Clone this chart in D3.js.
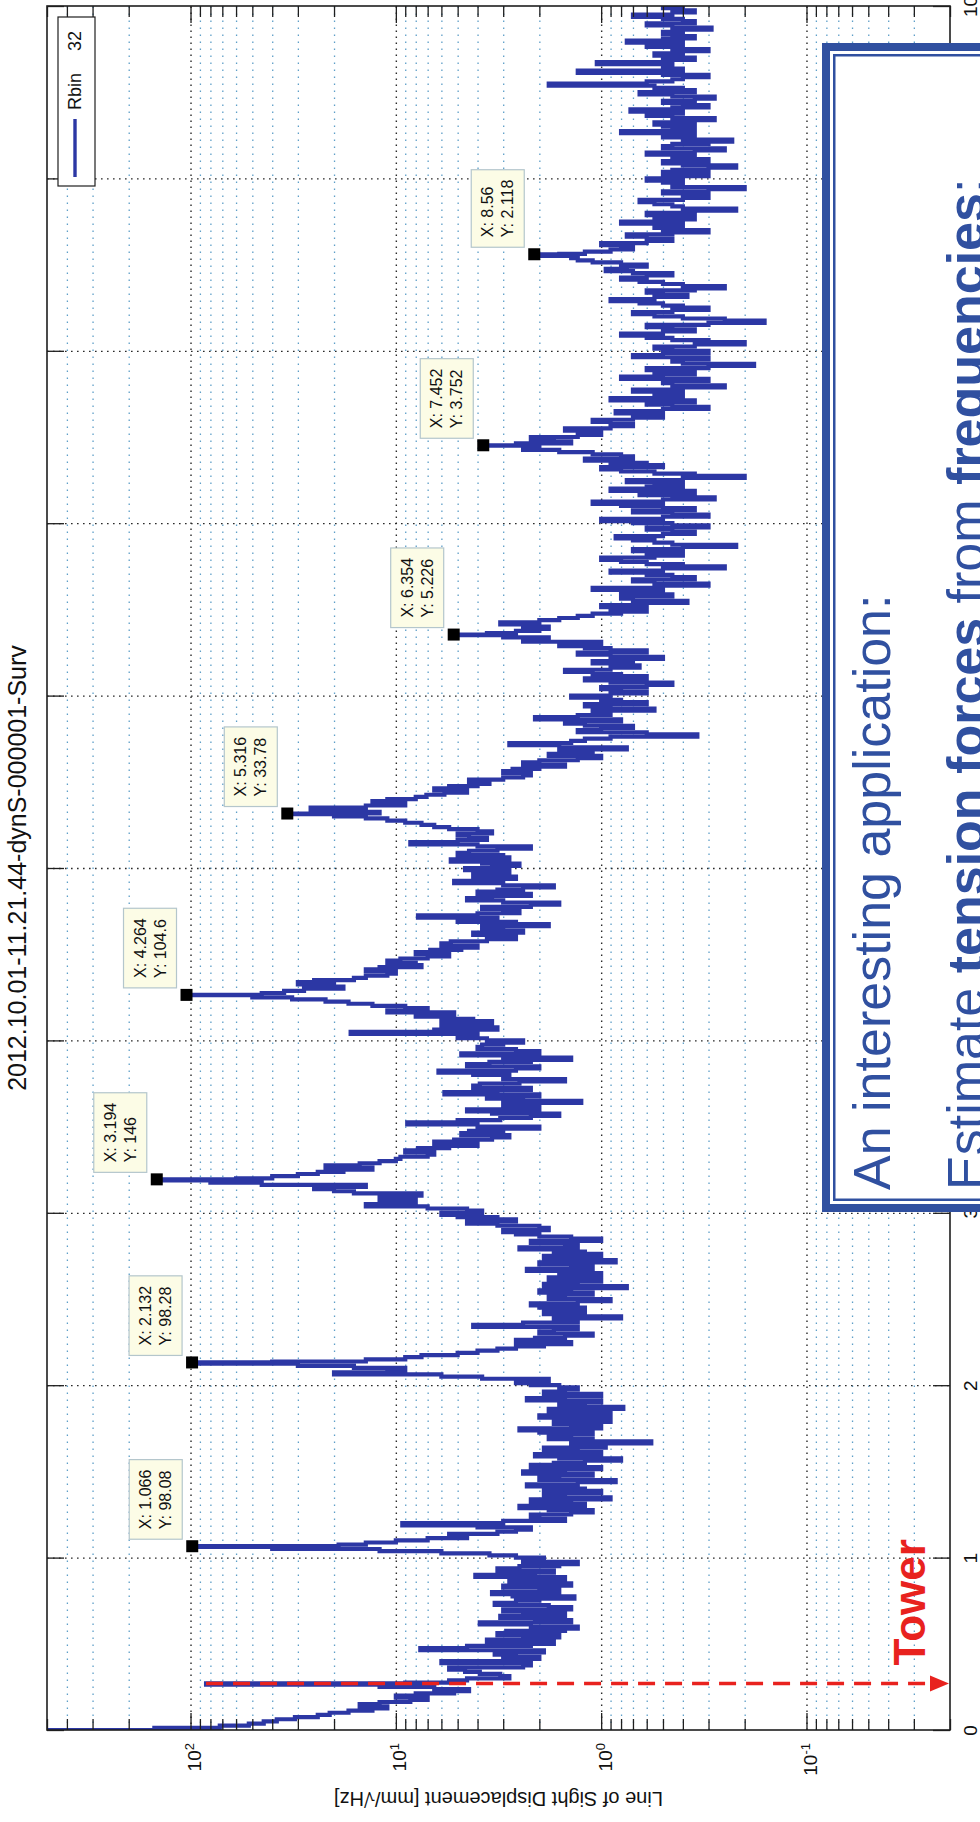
<!DOCTYPE html>
<html>
<head>
<meta charset="utf-8">
<script src="https://cdn.jsdelivr.net/npm/d3@7"></script>
<style>
  html, body { margin: 0; padding: 0; background: #ffffff; }
  svg { display: block; font-family: "Liberation Sans", Arial, Helvetica, sans-serif; }
</style>
</head>
<body>
<svg id="chart" width="980" height="1822"></svg>
<script>
// ---- labels ----
const chartTitle = "2012.10.01-11.21.44-dynS-000001-Surv";
const valueLabel = "Line of Sight Displacement [mm/\u221AHz]";
const legendName = "Rbin";
const legendValue = "32";
const noteLine1 = "An interesting application:";
const noteLine2 = [
  { text: "Estimate ", bold: false },
  { text: "tension forces", bold: true },
  { text: " from ", bold: false },
  { text: "frequencies", bold: true },
  { text: ":", bold: false }
];
const towerLabel = "Tower";

// ---- axis ticks ----
const freqTicks = [0, 1, 2, 3, 4, 5, 6, 7, 8, 9, 10];
const decadeTicks = [0.1, 1, 10, 100];
const valueDomain = [0.02, 500];
const freqDomain = [0, 10];

// ---- spectrum (mm/sqrt(Hz)), sampled every freqStep Hz, one array per 1 Hz band ----
const freqStep = 0.0125;
const psdBand0 = [3000, 150, 72, 52, 44, 38, 31, 24, 21, 17, 13, 11, 15, 12, 8.5, 7, 10, 8, 5.2, 4.4,
                  6.5, 12, 9, 5.5, 4.5, 2.8, 3.1, 3.9, 4.6, 5.5, 2.4, 2.2, 6.0, 3.0, 2.0, 2.6, 3.3, 1.9, 7.6, 4.5,
                  2.2, 1.7, 3.6, 2.4, 1.6, 3.2, 2.9, 1.5, 1.3, 2.2, 3.9, 1.4, 2.1, 3.1, 1.5, 2.4, 3.0, 1.4, 1.8, 3.3,
                  2.6, 2.0, 1.35, 2.7, 3.4, 1.6, 2.0, 3.0, 1.4, 2.2, 2.8, 1.5, 4.1, 2.1, 1.7, 3.2, 2.5, 1.6, 1.3, 2.4];
const psdBand1 = [1.9, 2.6, 3.5, 6, 12, 40, 19, 14, 10, 7, 4.5, 5.5, 3.2, 2.6, 2.2, 4.0, 9.3, 3.0, 1.5, 2.0,
                  2.2, 1.4, 1.1, 1.8, 2.5, 1.2, 1.4, 2.2, 0.9, 1.5, 1.9, 1.0, 1.2, 1.9, 2.3, 1.3, 0.85, 2.0, 1.6, 1.1,
                  2.4, 1.5, 1.0, 2.2, 1.7, 1.2, 0.8, 1.6, 2.1, 1.0, 1.3, 1.9, 0.95, 1.4, 0.57, 1.1, 1.8, 1.4, 1.1, 2.0,
                  2.5, 1.0, 1.4, 1.7, 0.9, 1.3, 2.0, 0.9, 1.2, 1.8, 0.78, 1.2, 1.6, 1.0, 2.3, 1.5, 1.0, 1.9, 1.5, 1.3];
const psdBand2 = [1.6, 2.2, 2.6, 1.8, 3.8, 6.0, 20, 11, 9, 16, 30, 40, 14, 9, 7.5, 5.0, 4.0, 3.2, 2.6, 1.9,
                  1.4, 2.6, 2.1, 1.5, 1.1, 2.0, 1.7, 1.3, 4.2, 2.4, 1.3, 1.7, 0.8, 1.2, 1.9, 1.5, 1.2, 2.0, 2.2, 1.3,
                  0.9, 1.8, 1.5, 1.1, 2.0, 1.4, 0.75, 1.9, 1.3, 1.0, 1.8, 1.4, 1.0, 1.6, 2.3, 1.1, 1.4, 2.0, 0.85, 1.3,
                  1.9, 1.0, 1.2, 1.7, 2.5, 1.3, 1.5, 2.2, 1.0, 1.4, 2.0, 2.6, 3.0, 1.8, 2.0, 3.2, 4.5, 2.6, 3.2, 5.0];
const psdBand3 = [6.0, 3.8, 4.5, 7, 14, 9, 8, 12, 10, 7.5, 16, 20, 25, 14, 45, 80, 60, 40, 30, 24,
                  18, 13, 22, 15, 12, 10, 9.5, 7, 6.5, 9, 7.8, 5.5, 4.0, 6.5, 5.2, 3.4, 2.8, 4.8, 4.4, 3.0,
                  2.0, 4.0, 8.8, 5.0, 3.1, 2.2, 1.6, 3.4, 4.5, 2.0, 2.4, 3.0, 1.25, 2.4, 3.6, 2.0, 5.8, 3.2, 2.2, 4.2,
                  3.9, 2.5, 1.5, 3.0, 2.8, 4.2, 6.2, 2.6, 2.0, 4.5, 3.5, 2.2, 1.4, 3.0, 4.8, 2.0, 2.6, 4.0, 3.8, 3.0];
const psdBand4 = [2.4, 3.6, 5.0, 4.0, 16.6, 6.5, 3.2, 4.5, 6.0, 3.4, 4.2, 6.0, 8.0, 5.2, 11, 7.0, 9, 13, 17, 22,
                  32, 50, 45, 35, 28, 18, 20, 30, 25, 16, 14, 11, 10, 14, 12, 7.5, 8.0, 11, 9.5, 7.0,
                  5.5, 8.0, 6.8, 4.8, 4.0, 6.0, 5.4, 3.6, 2.6, 3.4, 4.2, 2.4, 3.0, 3.8, 1.8, 2.6, 5.0, 3.2, 7.8, 4.0,
                  2.5, 3.0, 3.8, 2.2, 1.6, 3.0, 4.5, 3.4, 2.2, 4.0, 3.2, 2.4, 1.7, 3.0, 5.2, 3.6, 2.6, 4.2, 3.6, 2.8];
const psdBand5 = [4.6, 3.4, 2.5, 3.8, 5.4, 2.8, 3.0, 5.0, 4.4, 3.2, 2.2, 4.0, 8.5, 5.0, 3.6, 4.4, 5.0, 3.4, 4.0, 5.5,
                  6.5, 7.5, 9.0, 11, 14, 20, 12, 18, 26, 14, 9.0, 13, 11, 8.0, 7.1, 5.8, 4.5, 6.5, 5.5, 4.0,
                  3.5, 4.4, 3.0, 2.4, 2.2, 3.0, 2.7, 2.0, 1.5, 2.4, 2.0, 1.3, 1.0, 1.8, 1.6, 1.1, 0.75, 1.6, 2.8, 1.4,
                  1.2, 0.9, 0.34, 0.6, 1.3, 1.0, 0.7, 1.2, 1.5, 0.8, 2.1, 1.3, 0.9, 1.1, 0.55, 0.9, 1.2, 0.6, 0.8, 1.0];
const psdBand6 = [1.4, 0.9, 0.6, 0.8, 1.0, 0.6, 0.45, 0.9, 1.2, 0.6, 0.8, 1.1, 1.5, 0.9, 0.65, 0.8, 1.1, 0.7, 0.5, 0.9,
                  1.3, 0.6, 0.9, 1.2, 1.6, 1.0, 2.4, 1.8, 3.0, 3.6, 2.6, 2.0, 1.8, 2.4, 3.1, 2.0, 1.6, 1.3, 1.1, 0.8,
                  0.6, 0.9, 1.0, 0.6, 0.38, 0.7, 0.8, 0.45, 0.5, 0.8, 1.1, 0.5, 0.3, 0.55, 0.7, 0.35, 0.45, 0.6, 0.9, 0.5,
                  0.25, 0.4, 0.6, 0.8, 1.0, 0.55, 0.4, 0.6, 0.7, 0.4, 0.22, 0.45, 0.55, 0.7, 0.85, 0.5, 0.35, 0.45, 0.6, 0.3];
const psdBand7 = [0.45, 0.7, 1.0, 0.5, 0.3, 0.45, 0.7, 0.35, 0.5, 0.8, 1.1, 0.5, 0.28, 0.45, 0.65, 0.35, 0.9, 0.6, 0.4, 0.55,
                  0.75, 0.4, 0.2, 0.35, 0.55, 0.8, 1.0, 0.5, 0.6, 0.9, 1.2, 0.7, 0.8, 1.1, 1.6, 2.4, 2.0, 2.6, 1.4, 1.7,
                  2.2, 1.3, 1.0, 1.2, 1.5, 0.9, 0.7, 0.9, 1.1, 0.7, 0.5, 0.6, 0.85, 0.5, 0.3, 0.45, 0.6, 0.35, 0.9, 0.55,
                  0.4, 0.55, 0.7, 0.4, 0.25, 0.45, 0.5, 0.3, 0.8, 0.5, 0.35, 0.55, 0.6, 0.3, 0.18, 0.4, 0.45, 0.3, 0.7, 0.5];
const psdBand8 = [0.3, 0.45, 0.55, 0.35, 0.2, 0.3, 0.45, 0.6, 0.8, 0.5, 0.35, 0.45, 0.6, 0.3, 0.16, 0.25, 0.4, 0.55, 0.7, 0.45,
                  0.3, 0.4, 0.5, 0.65, 0.9, 0.55, 0.38, 0.5, 0.6, 0.35, 0.25, 0.4, 0.5, 0.65, 0.8, 0.6, 0.45, 0.7, 0.95, 0.75,
                  0.6, 0.8, 1.1, 1.3, 1.4, 1.6, 1.2, 0.9, 0.7, 0.8, 1.0, 0.6, 0.45, 0.6, 0.75, 0.45, 0.3, 0.5, 0.55, 0.4,
                  0.8, 0.55, 0.35, 0.5, 0.6, 0.35, 0.22, 0.4, 0.45, 0.55, 0.65, 0.4, 0.3, 0.4, 0.5, 0.3, 0.2, 0.45, 0.4, 0.5];
const psdBand9 = [0.6, 0.4, 0.3, 0.5, 0.45, 0.3, 0.22, 0.4, 0.5, 0.3, 0.35, 0.45, 0.6, 0.35, 0.25, 0.5, 0.45, 0.3, 0.23, 0.4,
                  0.5, 0.35, 0.8, 0.45, 0.35, 0.5, 0.55, 0.35, 0.28, 0.45, 0.6, 0.4, 0.72, 0.45, 0.3, 0.4, 0.5, 0.35, 0.28, 0.45,
                  0.65, 0.35, 0.4, 0.55, 1.8, 0.6, 0.45, 0.4, 0.3, 0.5, 1.3, 0.4, 0.5, 0.45, 1.05, 0.5, 0.35, 0.45, 0.55, 0.4,
                  0.3, 0.45, 0.6, 0.4, 0.75, 0.5, 0.35, 0.45, 0.5, 0.4, 0.29, 0.45, 0.6, 0.35, 0.4, 0.5, 0.7, 0.45, 0.35, 0.4,
                  0.5];

// ---- picked peaks (data tips) ----
const peakFreqs  = [1.066, 2.132, 3.194, 4.264, 5.316, 6.354, 7.452, 8.56];
const peakValues = [98.08, 98.28, 146, 104.6, 33.78, 5.226, 3.752, 2.118];

// ---- tower mode ----
const towerFreq = 0.27;
const towerValue = 84;

// ---- build the spectrum ----
const psdBands = [psdBand0, psdBand1, psdBand2, psdBand3, psdBand4, psdBand5, psdBand6, psdBand7, psdBand8, psdBand9];
const spectrum = [];
psdBands.forEach((band, b) => band.forEach((v, i) => spectrum.push({ f: b + i * freqStep, v })));
peakFreqs.forEach((f, i) => spectrum.push({ f, v: peakValues[i] }));
spectrum.push({ f: towerFreq, v: towerValue });
spectrum.sort((a, b) => a.f - b.f);

// ---- layout (page is the slide turned on its side) ----
const plot = { left: 47, right: 950, top: 6, bottom: 1730 };
const lineColor = "#2c37a4";
const gridMajor = "#2a2a2a";
const gridMinor = "#5f9fc8";
const axisColor = "#1e1e1e";
const noteBlue = "#3050a0";
const red = "#e8221e";

const svg = d3.select("#chart");

const fScale = d3.scaleLinear().domain(freqDomain).range([plot.bottom, plot.top]);
const vScale = d3.scaleLog().domain(valueDomain).range([plot.right, plot.left]);

const isDecade = t => Math.abs(Math.log10(t) - Math.round(Math.log10(t))) < 1e-9;
const allValueTicks = vScale.ticks();
const minorTicks = allValueTicks.filter(t => !isDecade(t));
const innerMinor = minorTicks.filter(t => t > valueDomain[0] && t < valueDomain[1]);

// ---- grid ----
const grid = svg.append("g");
grid.append("g")
  .attr("transform", `translate(0,${plot.bottom})`)
  .call(d3.axisBottom(vScale).tickValues(innerMinor).tickSize(-(plot.bottom - plot.top)).tickFormat(""))
  .call(g => g.select(".domain").remove())
  .selectAll("line")
  .attr("stroke", gridMinor).attr("stroke-width", 1.3).attr("stroke-dasharray", "1.6 5.4");
grid.append("g")
  .attr("transform", `translate(0,${plot.bottom})`)
  .call(d3.axisBottom(vScale).tickValues(decadeTicks).tickSize(-(plot.bottom - plot.top)).tickFormat(""))
  .call(g => g.select(".domain").remove())
  .selectAll("line")
  .attr("stroke", gridMajor).attr("stroke-width", 1.4).attr("stroke-dasharray", "1.6 4.4");
grid.append("g")
  .attr("transform", `translate(${plot.left},0)`)
  .call(d3.axisLeft(fScale).tickValues(freqTicks.filter(t => t > 0 && t < 10)).tickSize(-(plot.right - plot.left)).tickFormat(""))
  .call(g => g.select(".domain").remove())
  .selectAll("line")
  .attr("stroke", gridMajor).attr("stroke-width", 1.3).attr("stroke-dasharray", "1.6 4.4");

// ---- spectrum line ----
svg.append("clipPath").attr("id", "plotClip")
  .append("rect")
  .attr("x", plot.left).attr("y", plot.top)
  .attr("width", plot.right - plot.left).attr("height", plot.bottom - plot.top);

const line = d3.line()
  .x(d => vScale(d.v))
  .y(d => fScale(d.f))
  .curve(d3.curveStepAfter);

svg.append("path")
  .datum(spectrum)
  .attr("clip-path", "url(#plotClip)")
  .attr("d", line)
  .attr("fill", "none")
  .attr("stroke", lineColor)
  .attr("stroke-width", 4.2)
  .attr("stroke-linejoin", "miter");

// ---- axes box and ticks ----
const axes = svg.append("g").attr("stroke", axisColor);
function tickAxis(axis, tx, ty) {
  const g = axes.append("g").attr("transform", `translate(${tx},${ty})`).call(axis);
  g.select(".domain").remove();
  g.selectAll("line").attr("stroke", axisColor).attr("stroke-width", 1.3);
  return g;
}
tickAxis(d3.axisBottom(vScale).tickValues(minorTicks).tickSizeInner(-11).tickSizeOuter(0).tickFormat(""), 0, plot.bottom);
tickAxis(d3.axisBottom(vScale).tickValues(decadeTicks).tickSizeInner(-17).tickSizeOuter(0).tickFormat(""), 0, plot.bottom);
tickAxis(d3.axisTop(vScale).tickValues(minorTicks).tickSizeInner(-11).tickSizeOuter(0).tickFormat(""), 0, plot.top);
tickAxis(d3.axisTop(vScale).tickValues(decadeTicks).tickSizeInner(-17).tickSizeOuter(0).tickFormat(""), 0, plot.top);
tickAxis(d3.axisRight(fScale).tickValues(freqTicks).tickSizeInner(17).tickSizeOuter(0).tickFormat(""), plot.left, 0);

// frequency axis with its labels (labels turned with the slide)
const fAxis = tickAxis(d3.axisRight(fScale).tickValues(freqTicks).tickSizeInner(-17).tickSizeOuter(0).tickPadding(27), plot.right, 0);
fAxis.attr("font-size", null).attr("font-family", null);
fAxis.selectAll("text")
  .attr("x", 0).attr("dy", null)
  .attr("transform", "translate(27,0) rotate(-90)")
  .attr("text-anchor", "middle")
  .attr("stroke", "none")
  .attr("fill", "#111")
  .style("font-size", "19px");

axes.append("rect")
  .attr("x", plot.left).attr("y", plot.top)
  .attr("width", plot.right - plot.left).attr("height", plot.bottom - plot.top)
  .attr("fill", "none").attr("stroke", axisColor).attr("stroke-width", 1.6);

// decade labels under the value axis
const vLabels = svg.append("g")
  .attr("transform", `translate(0,${plot.bottom})`)
  .call(d3.axisBottom(vScale).tickValues(decadeTicks).tickSize(0).tickFormat(""));
vLabels.select(".domain").remove();
vLabels.selectAll(".tick").each(function (d) {
  const t = d3.select(this).append("text")
    .attr("transform", "translate(0,13) rotate(-90)")
    .attr("text-anchor", "end")
    .attr("y", 10)
    .attr("fill", "#111")
    .style("font-size", "19px");
  t.append("tspan").text("10");
  t.append("tspan").attr("dy", "-0.55em").style("font-size", "13px").text(String(Math.round(Math.log10(d))));
});

// title and value-axis label
svg.append("text")
  .attr("transform", `translate(26,${(plot.top + plot.bottom) / 2}) rotate(-90)`)
  .attr("text-anchor", "middle")
  .attr("fill", "#111")
  .style("font-size", "25px")
  .text(chartTitle);

svg.append("text")
  .attr("transform", `translate(${(plot.left + plot.right) / 2},1792) rotate(180)`)
  .attr("text-anchor", "middle")
  .attr("fill", "#111")
  .style("font-size", "20px")
  .text(valueLabel);

// ---- legend ----
const legend = svg.append("g");
legend.append("rect")
  .attr("x", 58).attr("y", 17).attr("width", 37).attr("height", 169)
  .attr("fill", "#fff").attr("stroke", axisColor).attr("stroke-width", 1.2);
legend.append("line")
  .attr("x1", 75).attr("x2", 75).attr("y1", 177).attr("y2", 119)
  .attr("stroke", lineColor).attr("stroke-width", 3.4);
const legText = legend.append("text")
  .attr("transform", "translate(81,110) rotate(-90)")
  .attr("fill", "#111")
  .style("font-size", "18px");
legText.append("tspan").text(legendName);
legText.append("tspan").attr("dx", 22).text(legendValue);

// ---- data tips ----
const tipData = peakFreqs.map((f, i) => ({ f, v: peakValues[i] }));
const tips = svg.append("g").selectAll("g").data(tipData).join("g")
  .attr("transform", d => `translate(${vScale(d.v) - 10},${fScale(d.f) - 7}) rotate(-90)`);
tips.each(function (d) {
  const g = d3.select(this);
  const box = g.append("rect");
  const txt = g.append("text").attr("fill", "#111").style("font-size", "16px");
  const l1 = txt.append("tspan").attr("x", 10).attr("y", -31).text(`X: ${d.f}`);
  const l2 = txt.append("tspan").attr("x", 10).attr("y", -11).text(`Y: ${d.v}`);
  const len = Math.max(l1.node().getComputedTextLength(), l2.node().getComputedTextLength());
  box.attr("x", 0).attr("y", -53).attr("width", len + 20).attr("height", 53)
    .attr("fill", "#fcfce6").attr("stroke", "#b4c6cc").attr("stroke-width", 1.2);
});
svg.append("g").selectAll("rect").data(tipData).join("rect")
  .attr("x", d => vScale(d.v) - 6).attr("y", d => fScale(d.f) - 6)
  .attr("width", 12).attr("height", 12)
  .attr("fill", "#000");

// ---- tower marker ----
const towerY = fScale(towerFreq);
svg.append("line")
  .attr("x1", vScale(towerValue)).attr("x2", plot.right - 18)
  .attr("y1", towerY).attr("y2", towerY)
  .attr("stroke", red).attr("stroke-width", 3.6).attr("stroke-dasharray", "17 10");
svg.append("path")
  .attr("d", `M${plot.right - 1},${towerY} L${plot.right - 20},${towerY - 8} L${plot.right - 20},${towerY + 8} Z`)
  .attr("fill", red);
svg.append("text")
  .attr("transform", `translate(925,${towerY - 18}) rotate(-90)`)
  .attr("fill", red)
  .style("font-size", "44px").style("font-weight", "bold")
  .text(towerLabel);

// ---- note box ----
const note = svg.append("g");
note.append("rect").attr("x", 822).attr("y", 43).attr("width", 220).attr("height", 1169).attr("fill", noteBlue);
note.append("rect").attr("x", 830).attr("y", 51).attr("width", 220).attr("height", 1153).attr("fill", "#fff");
note.append("rect").attr("x", 834.25).attr("y", 55.25).attr("width", 220).attr("height", 1144.5)
  .attr("fill", "none").attr("stroke", noteBlue).attr("stroke-width", 2.5);
note.append("text")
  .attr("transform", "translate(890,1190) rotate(-90)")
  .attr("fill", noteBlue)
  .style("font-size", "52px")
  .text(noteLine1);
const n2 = note.append("text")
  .attr("transform", "translate(984,1190) rotate(-90)")
  .attr("fill", noteBlue)
  .style("font-size", "52px");
noteLine2.forEach(p => n2.append("tspan").style("font-weight", p.bold ? "bold" : "normal").text(p.text));
</script>
</body>
</html>
